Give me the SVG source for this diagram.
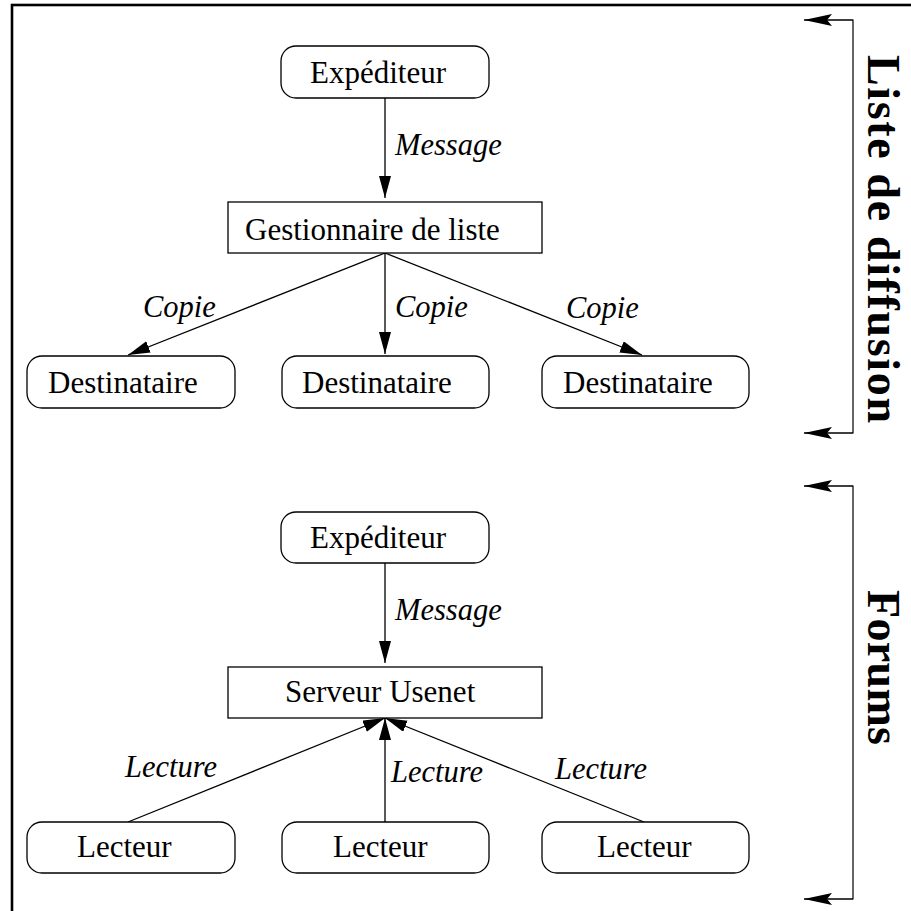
<svg xmlns="http://www.w3.org/2000/svg" width="911" height="911" viewBox="0 0 911 911">
  <style>
    .node { fill: #fff; stroke: #000; stroke-width: 1.3; }
    .lbl { font-family: "Liberation Serif", "Times New Roman", serif; font-size: 31px; fill: #000; }
    .edge-lbl { font-family: "Liberation Serif", "Times New Roman", serif; font-size: 30.5px; font-style: italic; fill: #000; }
    .title { font-family: "Liberation Serif", "Times New Roman", serif; font-size: 46px; font-weight: bold; fill: #000; }
    .edge { fill: none; stroke: #000; stroke-width: 1.3; }
    .brace { fill: none; stroke: #000; stroke-width: 1.2; }
  </style>
  <defs>
    <marker id="head" markerUnits="userSpaceOnUse" markerWidth="24" markerHeight="14" refX="22" refY="6" orient="auto">
      <path d="M0,0 L22,6 L0,12 z" fill="#000"/>
    </marker>
    <marker id="barb" markerUnits="userSpaceOnUse" markerWidth="30" markerHeight="14" refX="28" refY="6" orient="auto">
      <path d="M0,0 L28,6 L0,12 L5,6 z" fill="#000"/>
    </marker>
  </defs>

  <!-- outer frame -->
  <rect x="12" y="5" width="1000" height="1000" fill="#fff" stroke="#000" stroke-width="2.6"/>

  <!-- connectors -->
  <g id="connectors">
    <line class="edge" x1="385" y1="98" x2="385" y2="198" marker-end="url(#head)"/>
    <line class="edge" x1="385" y1="253" x2="128" y2="355" marker-end="url(#head)"/>
    <line class="edge" x1="385" y1="253" x2="385" y2="354" marker-end="url(#head)"/>
    <line class="edge" x1="385" y1="253" x2="642" y2="355" marker-end="url(#head)"/>

    <line class="edge" x1="385" y1="563" x2="385" y2="663" marker-end="url(#head)"/>
    <line class="edge" x1="128" y1="822" x2="385" y2="718" marker-end="url(#head)"/>
    <line class="edge" x1="385" y1="822" x2="385" y2="718" marker-end="url(#head)"/>
    <line class="edge" x1="644" y1="822" x2="385" y2="718" marker-end="url(#head)"/>

    <!-- section braces -->
    <path class="brace" d="M804,20 H853 V433 H804" />
    <line class="brace" x1="853" y1="20" x2="804" y2="20" marker-end="url(#barb)"/>
    <line class="brace" x1="853" y1="433" x2="804" y2="433" marker-end="url(#barb)"/>
    <path class="brace" d="M804,486 H853 V899 H804" />
    <line class="brace" x1="853" y1="486" x2="804" y2="486" marker-end="url(#barb)"/>
    <line class="brace" x1="853" y1="899" x2="804" y2="899" marker-end="url(#barb)"/>
  </g>

  <!-- edge labels -->
  <g id="edge-labels">
    <text class="edge-lbl" x="395" y="155">Message</text>
    <text class="edge-lbl" x="143" y="317">Copie</text>
    <text class="edge-lbl" x="395" y="317">Copie</text>
    <text class="edge-lbl" x="566" y="318">Copie</text>
    <text class="edge-lbl" x="395" y="620">Message</text>
    <text class="edge-lbl" x="125" y="777">Lecture</text>
    <text class="edge-lbl" x="391" y="782">Lecture</text>
    <text class="edge-lbl" x="555" y="779">Lecture</text>
  </g>

  <!-- mailing list section -->
  <g id="expediteur1">
    <rect class="node" x="281" y="46" width="208" height="52" rx="15"/>
    <text class="lbl" x="310" y="83">Expéditeur</text>
  </g>
  <g id="gestionnaire">
    <rect class="node" x="228" y="202" width="314" height="51"/>
    <text class="lbl" x="245" y="240">Gestionnaire de liste</text>
  </g>
  <g id="destinataire1">
    <rect class="node" x="27" y="356" width="208" height="52" rx="15"/>
    <text class="lbl" x="48" y="393">Destinataire</text>
  </g>
  <g id="destinataire2">
    <rect class="node" x="282" y="356" width="207" height="52" rx="15"/>
    <text class="lbl" x="302" y="393">Destinataire</text>
  </g>
  <g id="destinataire3">
    <rect class="node" x="542" y="356" width="207" height="52" rx="15"/>
    <text class="lbl" x="563" y="393">Destinataire</text>
  </g>

  <!-- newsgroup section -->
  <g id="expediteur2">
    <rect class="node" x="281" y="512" width="208" height="51" rx="15"/>
    <text class="lbl" x="310" y="548">Expéditeur</text>
  </g>
  <g id="serveur">
    <rect class="node" x="228" y="667" width="314" height="51"/>
    <text class="lbl" x="285" y="702">Serveur Usenet</text>
  </g>
  <g id="lecteur1">
    <rect class="node" x="27" y="822" width="208" height="51" rx="15"/>
    <text class="lbl" x="77" y="857">Lecteur</text>
  </g>
  <g id="lecteur2">
    <rect class="node" x="282" y="822" width="207" height="51" rx="15"/>
    <text class="lbl" x="333" y="857">Lecteur</text>
  </g>
  <g id="lecteur3">
    <rect class="node" x="542" y="822" width="207" height="51" rx="15"/>
    <text class="lbl" x="597" y="857">Lecteur</text>
  </g>

  <!-- section titles -->
  <g id="titre-liste">
    <text class="title" transform="translate(868,55) rotate(90)" textLength="368" lengthAdjust="spacing">Liste de diffusion</text>
  </g>
  <g id="titre-forums">
    <text class="title" transform="translate(868,590) rotate(90)" textLength="155" lengthAdjust="spacing">Forums</text>
  </g>
</svg>
